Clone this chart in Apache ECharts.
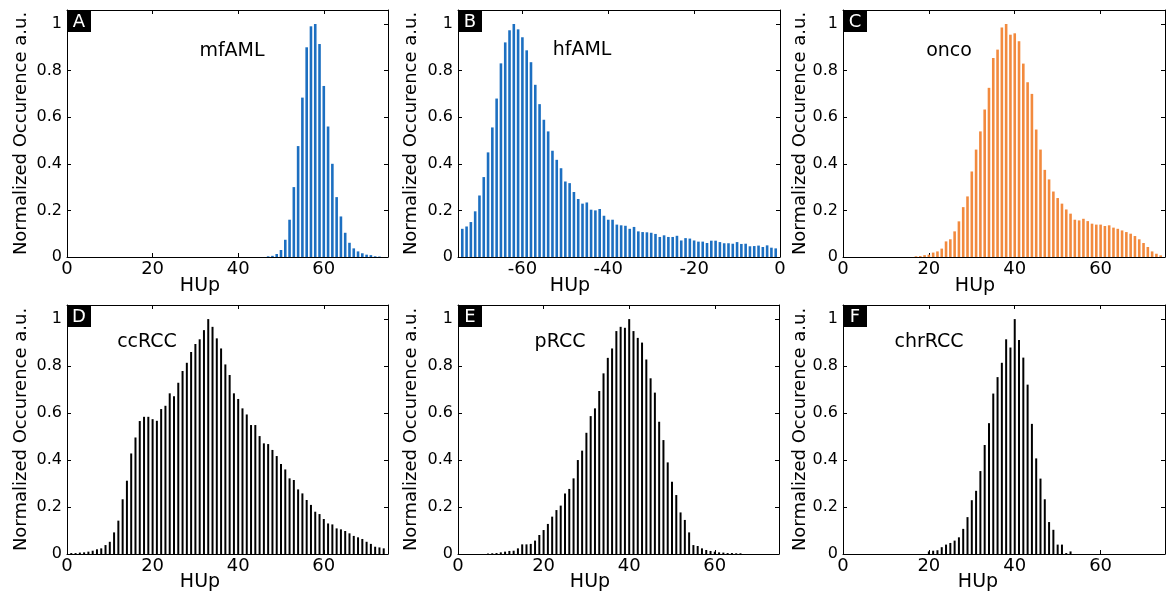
<!DOCTYPE html>
<html><head><meta charset="utf-8">
<script src="https://cdn.jsdelivr.net/npm/echarts@6/dist/echarts.min.js"></script>
<style>html,body{margin:0;padding:0;background:#fff}#c{width:1171px;height:594px}</style>
</head><body><div id="c"></div>
<script>
// ---- data (normalized occurrence per 1-HU bin) ----
const mfAML_start = 47;
const mfAML = [0.003,0.005,0.013,0.03,0.074,0.16,0.30,0.476,0.684,0.90,0.99,1.0,0.914,0.734,0.56,0.40,0.257,0.174,0.104,0.061,0.037,0.024,0.016,0.01,0.008,0.003,0.002];
const hfAML_start = -74;
const hfAML = [0.121,0.131,0.15,0.196,0.264,0.343,0.449,0.556,0.68,0.831,0.921,0.973,1.0,0.977,0.943,0.887,0.836,0.739,0.656,0.589,0.539,0.456,0.417,0.381,0.324,0.317,0.279,0.249,0.229,0.234,0.203,0.20,0.206,0.177,0.16,0.16,0.139,0.136,0.134,0.121,0.129,0.11,0.107,0.106,0.104,0.099,0.086,0.093,0.086,0.086,0.091,0.071,0.081,0.079,0.071,0.066,0.066,0.06,0.07,0.07,0.064,0.059,0.059,0.057,0.064,0.056,0.057,0.046,0.047,0.049,0.043,0.05,0.04,0.037];
const onco_start = 17;
const onco = [0.003,0.004,0.008,0.01,0.019,0.024,0.036,0.067,0.076,0.11,0.153,0.214,0.26,0.367,0.461,0.539,0.633,0.726,0.854,0.89,0.985,1.0,0.954,0.96,0.926,0.83,0.75,0.7,0.547,0.461,0.374,0.333,0.281,0.253,0.229,0.204,0.186,0.16,0.157,0.164,0.154,0.143,0.139,0.139,0.133,0.136,0.126,0.121,0.114,0.107,0.1,0.09,0.076,0.06,0.043,0.024,0.014,0.007];
const ccRCC_start = 1;
const ccRCC = [0.004,0.004,0.006,0.007,0.01,0.014,0.02,0.024,0.038,0.052,0.092,0.142,0.233,0.312,0.428,0.496,0.566,0.584,0.584,0.574,0.567,0.617,0.631,0.684,0.672,0.729,0.779,0.814,0.86,0.894,0.914,0.953,1.0,0.967,0.918,0.875,0.807,0.762,0.684,0.66,0.62,0.594,0.549,0.549,0.502,0.471,0.468,0.443,0.417,0.383,0.36,0.322,0.315,0.275,0.258,0.23,0.209,0.18,0.17,0.149,0.13,0.126,0.109,0.105,0.098,0.088,0.077,0.071,0.064,0.052,0.043,0.031,0.028,0.024];
const pRCC_start = 7;
const pRCC = [0.002,0.003,0.004,0.007,0.01,0.013,0.014,0.024,0.041,0.041,0.043,0.057,0.081,0.102,0.128,0.159,0.187,0.206,0.258,0.277,0.322,0.4,0.44,0.516,0.587,0.62,0.694,0.769,0.835,0.875,0.949,0.967,0.963,1.0,0.949,0.92,0.9,0.828,0.748,0.687,0.563,0.485,0.39,0.308,0.251,0.177,0.145,0.092,0.038,0.034,0.024,0.017,0.013,0.01,0.007,0.006,0.004,0.004,0.003,0.003];
const chrRCC_start = 20;
const chrRCC = [0.011,0.014,0.016,0.029,0.04,0.047,0.057,0.071,0.107,0.157,0.229,0.269,0.353,0.464,0.557,0.683,0.753,0.814,0.914,0.879,1.0,0.911,0.836,0.721,0.554,0.407,0.321,0.233,0.136,0.103,0.04,0.04,0.004,0.011];

const panelLetters = ['A','B','C','D','E','F'];
const panelNames = ['mfAML','hfAML','onco','ccRCC','pRCC','chrRCC'];
const xTicksPos = [0,20,40,60];
const xTicksNeg = [-60,-40,-20,0];
const yTicks = [0,0.2,0.4,0.6,0.8,1];
const xTitle = 'HUp';
const yTitle = 'Normalized Occurence a.u.';

// ---- layout / style ----
const FONT = 'DejaVu Sans';
const grids = [
  {left:67, top:10, width:321, height:247},
  {left:458, top:10, width:322, height:247},
  {left:843, top:10, width:322, height:247},
  {left:67, top:305, width:321, height:249},
  {left:458, top:305, width:321, height:249},
  {left:843, top:305, width:322, height:249}
];
const ranges = [[0,75],[-75,0],[0,75],[0,75],[0,75],[0,75]];
const tickSets = [xTicksPos, xTicksNeg, xTicksPos, xTicksPos, xTicksPos, xTicksPos];
const colors = ['#1c6fc1','#1c6fc1','#f28a3e','#000000','#000000','#000000'];
const barWidths = [2.6,2.6,2.6,2,2,2];
const datasets = [[mfAML_start,mfAML],[hfAML_start,hfAML],[onco_start,onco],[ccRCC_start,ccRCC],[pRCC_start,pRCC],[chrRCC_start,chrRCC]];
const titlePos = [[232,51],[582,50],[949,51],[147,342],[560,342],[929,342]];
const xNamePos = [[200,286],[570,286],[975,286],[200,582],[590,582],[978,582]];
const yNameX = [21,411,800,21,411,800];

const xAxes = [], yAxes = [], series = [], graphics = [];
const lineS = {color:'#000', width:1};
grids.forEach((g,i)=>{
  const ticks = tickSets[i];
  xAxes.push({gridIndex:i, type:'value', position:'bottom', min:ranges[i][0], max:ranges[i][1],
    axisLine:{show:true, onZero:false, lineStyle:lineS},
    axisTick:{show:true, inside:true, length:4, customValues:ticks, lineStyle:lineS},
    axisLabel:{show:true, customValues:ticks, fontSize:18, fontFamily:FONT, color:'#000', margin:3},
    splitLine:{show:false}});
  xAxes.push({gridIndex:i, type:'value', position:'top', min:ranges[i][0], max:ranges[i][1],
    axisLine:{show:true, onZero:false, lineStyle:lineS},
    axisTick:{show:true, inside:true, length:4, customValues:ticks, lineStyle:lineS},
    axisLabel:{show:false}, splitLine:{show:false}});
  yAxes.push({gridIndex:i, type:'value', position:'left', min:0, max:1.06,
    axisLine:{show:true, onZero:false, lineStyle:lineS},
    axisTick:{show:true, inside:true, length:4, customValues:yTicks, lineStyle:lineS},
    axisLabel:{show:true, customValues:yTicks, fontSize:16, fontFamily:FONT, color:'#000', margin:5,
      formatter:v=>String(Math.round(v*10)/10)},
    splitLine:{show:false}});
  yAxes.push({gridIndex:i, type:'value', position:'right', min:0, max:1.06,
    axisLine:{show:true, onZero:false, lineStyle:lineS},
    axisTick:{show:true, inside:true, length:4, customValues:yTicks, lineStyle:lineS},
    axisLabel:{show:false}, splitLine:{show:false}});
  const [start, vals] = datasets[i];
  series.push({type:'bar', xAxisIndex:2*i, yAxisIndex:2*i, barWidth:barWidths[i],
    itemStyle:{color:colors[i]}, silent:true, animation:false,
    data: vals.map((v,k)=>[start+k, v])});
  // panel letter box
  graphics.push({type:'rect', shape:{x:g.left, y:g.top+1, width:24, height:21}, style:{fill:'#000'}, z:100});
  graphics.push({type:'text', x:g.left+12, y:g.top+12, z:101,
    style:{text:panelLetters[i], fill:'#fff', fontSize:18, fontFamily:FONT, align:'center', verticalAlign:'middle'}});
  graphics.push({type:'text', x:titlePos[i][0], y:titlePos[i][1], z:100,
    style:{text:panelNames[i], fill:'#000', fontSize:19, fontFamily:FONT, align:'center', verticalAlign:'middle'}});
  graphics.push({type:'text', x:xNamePos[i][0], y:xNamePos[i][1], z:100,
    style:{text:xTitle, fill:'#000', fontSize:19, fontFamily:FONT, align:'center', verticalAlign:'middle'}});
  graphics.push({type:'text', x:yNameX[i], y:g.top+g.height/2, rotation:Math.PI/2, z:100,
    style:{text:yTitle, fill:'#000', fontSize:18, fontFamily:FONT, align:'center', verticalAlign:'middle'}});
});

const chart = echarts.init(document.getElementById('c'), null, {renderer:'canvas'});
chart.setOption({
  animation:false,
  backgroundColor:'#fff',
  grid: grids.map(g=>Object.assign({containLabel:false}, g)),
  xAxis: xAxes, yAxis: yAxes, series: series, graphic: graphics
});
</script></body></html>
